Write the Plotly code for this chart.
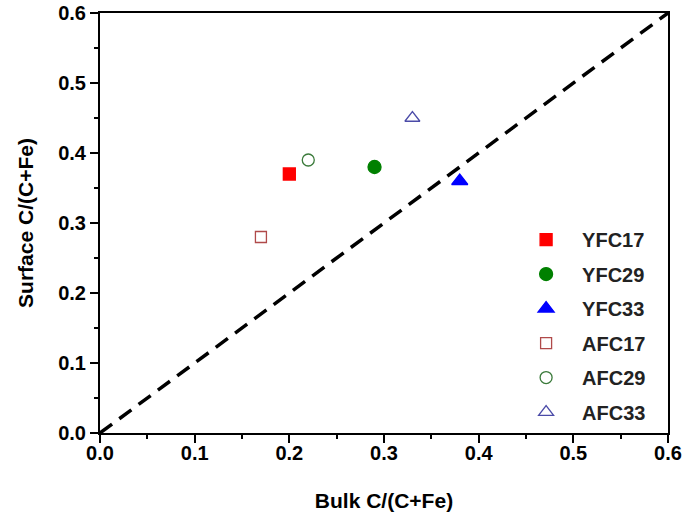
import plotly.graph_objects as go

names = ["YFC17", "YFC29", "YFC33", "AFC17", "AFC29", "AFC33"]
bulk = [0.20, 0.29, 0.38, 0.17, 0.22, 0.33]
surface = [0.37, 0.38, 0.36, 0.28, 0.39, 0.45]
symbols = ["square", "circle", "triangle-up", "square-open", "circle-open", "triangle-up-open"]
colors = ["#ff0000", "#008000", "#0000ff", "#b04a4a", "#3a7a3a", "#4b4ba8"]
sizes = [12, 13, 14, 11, 12, 13]
diag = [0.0, 0.6]
ticks = [0.0, 0.1, 0.2, 0.3, 0.4, 0.5, 0.6]
tick_text = ["<b>0.0</b>", "<b>0.1</b>", "<b>0.2</b>", "<b>0.3</b>", "<b>0.4</b>", "<b>0.5</b>", "<b>0.6</b>"]

FAM = "Liberation Sans, Arial, sans-serif"

fig = go.Figure()
fig.add_trace(go.Scatter(x=diag, y=diag, mode="lines",
                         line=dict(color="black", width=3.5, dash="15px,9px"),
                         showlegend=False, hoverinfo="skip"))
for n, bx, sy, sym, c, s in zip(names, bulk, surface, symbols, colors, sizes):
    fig.add_trace(go.Scatter(x=[bx], y=[sy], mode="markers", name="<b>" + n + "</b>",
                             legendgroup=n,
                             marker=dict(symbol=sym, color=c, size=s,
                                         line=dict(color=c, width=1.3))))

axis_common = dict(range=[0, 0.6], tickvals=ticks, ticktext=tick_text,
                   showline=True, linecolor="black", linewidth=2, mirror=True,
                   ticks="outside", ticklen=8, tickwidth=2, tickcolor="black",
                   showgrid=False, zeroline=False, automargin=False,
                   ticklabeloverflow="allow",
                   tickfont=dict(family=FAM, size=20, color="black"),
                   minor=dict(ticks="outside", ticklen=4, tickwidth=1.5, tickcolor="black",
                              dtick=0.05, showgrid=False))

fig.update_layout(
    width=685, height=518,
    margin=dict(l=100, r=17, t=13, b=85),
    plot_bgcolor="white", paper_bgcolor="white",
    font=dict(family=FAM, size=20, color="black"),
    xaxis=dict(title=dict(text="<b>Bulk C/(C+Fe)</b>", font=dict(family=FAM, size=21), standoff=30),
               ticklabelstandoff=-7, **axis_common),
    yaxis=dict(title=dict(text="<b>Surface C/(C+Fe)</b>", font=dict(family=FAM, size=21), standoff=19),
               **axis_common),
    legend=dict(x=0.722, y=0.507, xanchor="left", yanchor="top",
                bgcolor="rgba(0,0,0,0)", borderwidth=0,
                font=dict(family=FAM, size=20, color="#222"),
                itemwidth=62, tracegroupgap=5.5),
)
fig.write_html("out.html",
               config={"displayModeBar": False},
               post_script="document.body.style.margin='0';document.body.style.overflow='hidden';")
